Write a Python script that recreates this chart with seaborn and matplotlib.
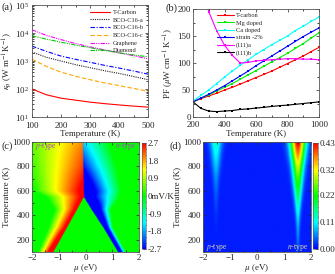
import numpy as np
import matplotlib
matplotlib.use("Agg")
import matplotlib.pyplot as plt
import seaborn as sns
from matplotlib.colors import LinearSegmentedColormap
from matplotlib.ticker import LogLocator, NullFormatter, AutoMinorLocator, FixedLocator

# (a) lattice thermal conductivity, W m^-1 K^-1
kappa_T = [100, 150, 200, 250, 300, 350, 400, 450, 500]
kappa_tcarbon = [100, 62, 47, 40, 34, 30, 27, 24.5, 22.5]
kappa_bco_a = [2100, 1350, 1000, 740, 577, 450, 360, 280, 215]
kappa_bco_b = [3400, 2200, 1500, 1150, 900, 700, 560, 440, 340]
kappa_bco_c = [1150, 640, 400, 285, 215, 165, 132, 105, 83]
kappa_graphene = [13000, 8200, 5800, 4200, 3200, 2500, 1950, 1550, 1200]
kappa_diamond = [8000, 6000, 4700, 3700, 3000, 2400, 1950, 1650, 1420]

# (b) power factor, uW cm^-1 K^-2
pf_T = [200, 250, 300, 350, 400, 450, 500, 550, 600, 650, 700, 750, 800, 850, 900, 950, 1000]
pf_tcarbon = [28, 34, 39, 44, 50, 55, 61, 67, 73, 79, 85, 92, 99, 106, 113, 121, 129]
pf_mg = [28, 35, 41, 48, 55, 62, 70, 78, 86, 94, 102, 110, 118, 127, 136, 146, 156]
pf_ca = [30, 40, 50, 62, 74, 85, 96, 106, 116, 125, 134, 142, 150, 160, 168, 177, 185]
pf_strain = [28, 35, 42, 50, 58, 67, 76, 85, 95, 104, 113, 122, 131, 140, 149, 157, 165]
pf_111a = [330, 250, 195, 160, 133, 114, 100, 101, 104, 105, 106, 107, 108, 108, 107, 107, 106]
pf_111b = [28, 16, 11, 10, 11, 12, 14, 15, 16.5, 18, 19.5, 21, 22, 23.5, 25, 26.5, 28]

# (c) Seebeck map, read as edge position / edge value / fall-off width per temperature
seeb_T = [100, 300, 450, 550, 600, 800, 1000]
p_edge = [-1.20, -0.69, -0.31, -0.06, -0.06, -0.08, -0.10]
p_peak = [4.1, 3.2, 3.1, 3.0, 3.0, 2.4, 2.0]
p_width = [0.57, 0.70, 0.85, 1.40, 1.90, 2.20, 2.50]
n_edge = [1.22, 0.67, 0.22, -0.06, -0.06, -0.08, -0.10]
n_peak = [-4.9, -5.0, -5.2, -4.0, -4.0, -2.6, -1.6]
n_width = [0.29, 0.36, 0.74, 1.34, 1.40, 1.25, 1.00]

# (d) map, lobe height and width per temperature
zt_T = [100, 200, 300, 400, 500, 600, 700, 800, 900, 1000]
zt_n_amp = [0.02, 0.04, 0.06, 0.09, 0.13, 0.18, 0.23, 0.29, 0.36, 0.43]
zt_n_sigma = [0.05, 0.06, 0.07, 0.09, 0.12, 0.15, 0.18, 0.21, 0.25, 0.28]
zt_p_amp = [0.0, 0.0, 0.005, 0.01, 0.02, 0.03, 0.045, 0.07, 0.095, 0.12]
zt_p_sigma = [0.05, 0.05, 0.06, 0.07, 0.08, 0.10, 0.12, 0.15, 0.18, 0.22]
zt_n_center = 1.52
zt_p_center = -1.52
zt_floor = 0.012

sns.set_style("ticks")
plt.rcParams["font.family"] = ["Liberation Serif", "DejaVu Serif"]
plt.rcParams.update({
    "mathtext.fontset": "stix",
    "font.size": 6.5,
    "axes.linewidth": 0.6,
    "axes.edgecolor": "#555555",
    "xtick.direction": "in",
    "ytick.direction": "in",
    "xtick.top": True,
    "ytick.right": True,
    "xtick.major.size": 2.0,
    "ytick.major.size": 2.0,
    "xtick.minor.size": 1.2,
    "ytick.minor.size": 1.2,
    "xtick.major.width": 0.5,
    "ytick.major.width": 0.5,
    "xtick.major.pad": 1.5,
    "ytick.major.pad": 1.5,
    "xtick.labelsize": 6.5,
    "ytick.labelsize": 6.5,
})

W, H = 335, 274
fig = plt.figure(figsize=(W / 100, H / 100), dpi=100)


def box(l, t, r, b):
    return [l / W, 1 - b / H, (r - l) / W, (b - t) / H]


rainbow = LinearSegmentedColormap.from_list(
    "bcgyr", ["#0000ff", "#00ffff", "#00ff00", "#ffff00", "#ff0000"])

# ---- (a)
ax = fig.add_axes(box(32, 5, 148, 117))
styles_a = [
    (kappa_tcarbon, "T-Carbon", "#ff0000", "-"),
    (kappa_bco_a, "BCO-C16-a", "#222222", (0, (1, 1))),
    (kappa_bco_b, "BCO-C16-b", "#0000ff", (0, (4, 1.5, 1, 1.5))),
    (kappa_bco_c, "BCO-C16-c", "#ffa500", (0, (4, 2))),
    (kappa_graphene, "Graphene", "#ff00ff", (0, (4, 1, 1, 1, 1, 1))),
    (kappa_diamond, "Diamond", "#00cc00", (0, (4, 1, 1, 1, 1, 1))),
]
for vals, name, col, ls in styles_a:
    sns.lineplot(x=kappa_T, y=vals, ax=ax, color=col, linestyle=ls, lw=0.8, label=name)
ax.set_yscale("log")
ax.set_xlim(100, 500)
ax.set_ylim(10, 1e5)
ax.set_xticks([100, 200, 300, 400, 500])
ax.xaxis.set_minor_locator(AutoMinorLocator(2))
ax.yaxis.set_major_locator(LogLocator(base=10, numticks=10))
ax.yaxis.set_minor_locator(LogLocator(base=10, subs=np.arange(2, 10), numticks=20))
ax.yaxis.set_minor_formatter(NullFormatter())
ax.tick_params(axis="x", pad=3.6)
ax.tick_params(axis="y", pad=2.0)
ax.set_xlabel("Temperature (K)", labelpad=0)
ax.set_ylabel(r"$\kappa_{\rm p}$ (W m$^{-1}$K$^{-1}$)", labelpad=0.5)
ax.legend(loc="upper right", frameon=False, fontsize=4.6, handlelength=3.2,
          labelspacing=0.35, handletextpad=0.4, borderaxespad=0.3)

# ---- (b)
ax = fig.add_axes(box(193, 9, 319, 117))
styles_b = [
    (pf_tcarbon, "T-carbon", "#ff0000"),
    (pf_mg, "Mg doped", "#00ee00"),
    (pf_ca, "Ca doped", "#00ffff"),
    (pf_strain, "strain -2%", "#0000ff"),
    (pf_111a, "(111)a", "#ff00ff"),
    (pf_111b, "(111)b", "#000000"),
]
for vals, name, col in styles_b:
    sns.lineplot(x=pf_T, y=vals, ax=ax, color=col, lw=0.8, marker="s", markersize=2,
                 markeredgewidth=0, label=name)
ax.set_xlim(200, 1000)
ax.set_ylim(0, 200)
ax.set_xticks([200, 400, 600, 800, 1000])
ax.set_yticks([0, 50, 100, 150, 200])
ax.xaxis.set_minor_locator(AutoMinorLocator(2))
ax.yaxis.set_minor_locator(AutoMinorLocator(2))
ax.tick_params(axis="x", pad=2.8)
ax.set_xlabel("Temperature (K)", labelpad=0.5)
ax.set_ylabel(r"PF ($\mu$W cm$^{-1}$ K$^{-1}$)", labelpad=1)
ax.legend(loc="upper left", frameon=False, fontsize=4.6, handlelength=2.6,
          labelspacing=0.3, handletextpad=0.4, borderaxespad=0.2,
          bbox_to_anchor=(0.16, 1.0))

# ---- (c) Seebeck map
mu = np.linspace(-2, 2, 401)
temp = np.linspace(100, 1000, 361)
S = np.zeros((temp.size, mu.size))
for i, t in enumerate(temp):
    pe, pk, pw = np.interp(t, seeb_T, p_edge), np.interp(t, seeb_T, p_peak), np.interp(t, seeb_T, p_width)
    ne, nk, nw = np.interp(t, seeb_T, n_edge), np.interp(t, seeb_T, n_peak), np.interp(t, seeb_T, n_width)
    left = mu <= pe
    right = mu >= ne
    S[i, left] = pk * np.clip(1 - (pe - mu[left]) / pw, 0, None)
    S[i, right] = nk * np.clip(1 - (mu[right] - ne) / nw, 0, None)

ax = fig.add_axes(box(32, 142, 139, 252))
im = ax.imshow(S, origin="lower", extent=[-2, 2, 100, 1000], aspect="auto",
               cmap=rainbow, vmin=-2.7, vmax=2.7, interpolation="bilinear")
ax.set_xticks([-2, -1, 0, 1, 2])
ax.set_yticks([200, 400, 600, 800, 1000])
ax.xaxis.set_minor_locator(AutoMinorLocator(2))
ax.yaxis.set_minor_locator(AutoMinorLocator(2))
ax.set_xlabel(r"$\mu$ (eV)", labelpad=0)
ax.set_ylabel("Temperature (K)", labelpad=1)
ax.text(-1.9, 960, r"$p$-type", color="#b040c0", fontsize=5.5, va="center")
ax.text(1.9, 960, r"$n$-type", color="#b040c0", fontsize=5.5, va="center", ha="right")
cax = fig.add_axes(box(141.5, 143, 146, 249))
cb = fig.colorbar(im, cax=cax)
cb.set_ticks([2.7, 1.8, 0.9, 0, -0.9, -1.8, -2.7])
cb.set_ticklabels(["2.7", "1.8", "0.9", "0mV/K", "-0.9", "-1.8", "-2.7"])
cb.ax.yaxis.set_minor_locator(FixedLocator(np.arange(-2.7, 2.71, 0.3)))
cb.ax.tick_params(which="both", direction="in", right=True, left=False, pad=1)
cb.outline.set_linewidth(0.4)

# ---- (d) map
Z = np.zeros((temp.size, mu.size))
for i, t in enumerate(temp):
    na, ns = np.interp(t, zt_T, zt_n_amp), np.interp(t, zt_T, zt_n_sigma)
    pa, ps = np.interp(t, zt_T, zt_p_amp), np.interp(t, zt_T, zt_p_sigma)
    Z[i] = zt_floor + na * np.exp(-((mu - zt_n_center) / ns) ** 2) \
        + pa * np.exp(-((mu - zt_p_center) / ps) ** 2)

ax = fig.add_axes(box(203, 142, 311, 252))
im = ax.imshow(Z, origin="lower", extent=[-2, 2, 100, 1000], aspect="auto",
               cmap=rainbow, vmin=0, vmax=0.43, interpolation="bilinear")
ax.set_xticks([-2, -1, 0, 1, 2])
ax.set_yticks([200, 400, 600, 800, 1000])
ax.xaxis.set_minor_locator(AutoMinorLocator(2))
ax.yaxis.set_minor_locator(AutoMinorLocator(2))
ax.set_xlabel(r"$\mu$ (eV)", labelpad=0)
ax.set_ylabel("Temperature (K)", labelpad=1)
ax.text(-1.9, 140, r"$p$-type", color="#e0d8a0", fontsize=5.5, va="center")
ax.text(1.9, 140, r"$n$-type", color="#e0d8a0", fontsize=5.5, va="center", ha="right")
cax = fig.add_axes(box(312.5, 143, 318, 249))
cb = fig.colorbar(im, cax=cax)
cb.set_ticks([0.0, 0.11, 0.22, 0.32, 0.43])
cb.set_ticklabels(["0.00", "0.11", "0.22", "0.32", "0.43"])
cb.ax.yaxis.set_minor_locator(FixedLocator(np.linspace(0, 0.43, 21)))
cb.ax.tick_params(which="both", direction="in", right=True, left=False, pad=1)
cb.outline.set_linewidth(0.4)

# panel letters
for lbl, x, y in [("(a)", 1, 7), ("(b)", 166, 8), ("(c)", 1, 146), ("(d)", 169, 146)]:
    fig.text(x / W, 1 - y / H, lbl, fontsize=7.5, va="center", ha="left")

fig.savefig("out.png", dpi=100)
